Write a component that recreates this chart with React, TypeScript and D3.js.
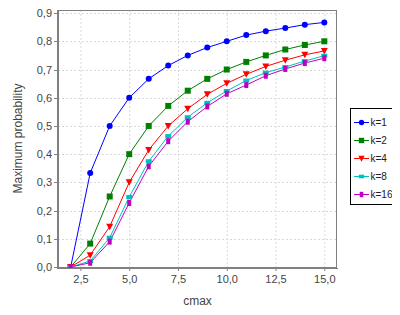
import * as d3 from 'd3';
import { useEffect, useRef } from 'react';

// cmax values on the x axis
const cmax = [2, 3, 4, 5, 6, 7, 8, 9, 10, 11, 12, 13, 14, 15];

// series values
const k1 = [0, 0.333, 0.5, 0.6, 0.667, 0.714, 0.75, 0.778, 0.8, 0.822, 0.836, 0.847, 0.859, 0.867];
const k2 = [0, 0.083, 0.25, 0.4, 0.5, 0.571, 0.625, 0.667, 0.7, 0.727, 0.75, 0.771, 0.787, 0.8];
const k4 = [0, 0.042, 0.143, 0.3, 0.415, 0.5, 0.561, 0.612, 0.651, 0.683, 0.711, 0.733, 0.752, 0.766];
const k8 = [0, 0.021, 0.104, 0.248, 0.375, 0.464, 0.531, 0.582, 0.624, 0.661, 0.689, 0.709, 0.73, 0.749];
const k16 = [0, 0.015, 0.09, 0.227, 0.357, 0.446, 0.515, 0.569, 0.614, 0.645, 0.678, 0.702, 0.723, 0.74];

const seriesNames = ['k=1', 'k=2', 'k=4', 'k=8', 'k=16'];
const xTicks = [2.5, 5, 7.5, 10, 12.5, 15];
const yTicks = [0, 0.1, 0.2, 0.3, 0.4, 0.5, 0.6, 0.7, 0.8, 0.9];

function App() {
    const elementRef = useRef<HTMLDivElement>(null);

    useEffect(() => {
        const element = d3.select(elementRef.current);
        element.selectAll('svg').remove();

        const width = 400, height = 315;
        const plot = { left: 58, right: 337, top: 10, bottom: 267 };
        const font = 'Liberation Sans, Arial, sans-serif';

        const svg = element.append('svg')
            .attr('width', width)
            .attr('height', height)
            .style('display', 'block')
            .style('font-family', font);

        svg.append('rect').attr('width', width).attr('height', height).attr('fill', '#fff');

        const x = d3.scaleLinear().domain([1.35, 15.65]).range([plot.left, plot.right]);
        const y = d3.scaleLinear().domain([0, 0.911]).range([plot.bottom, plot.top]);
        const fmt = (v: number) => d3.format('.1f')(v).replace('.', ',');

        // gridlines
        svg.append('g').selectAll('line').data(xTicks).join('line')
            .attr('x1', d => x(d) + 0.5).attr('x2', d => x(d) + 0.5)
            .attr('y1', plot.top).attr('y2', plot.bottom)
            .attr('stroke', '#d9d9d9').attr('stroke-dasharray', '2,2');
        svg.append('g').selectAll('line').data(yTicks.slice(1)).join('line')
            .attr('x1', plot.left).attr('x2', plot.right)
            .attr('y1', d => Math.round(y(d)) + 0.5).attr('y2', d => Math.round(y(d)) + 0.5)
            .attr('stroke', '#d9d9d9').attr('stroke-dasharray', '2,2');

        // outline
        svg.append('rect')
            .attr('x', plot.left + 0.5).attr('y', plot.top + 0.5)
            .attr('width', plot.right - plot.left - 1).attr('height', plot.bottom - plot.top)
            .attr('fill', 'none').attr('stroke', '#808080');

        // x axis
        const xAxis = svg.append('g');
        xAxis.append('line')
            .attr('x1', plot.left).attr('x2', plot.right + 1)
            .attr('y1', plot.bottom + 1.5).attr('y2', plot.bottom + 1.5)
            .attr('stroke', '#808080');
        xAxis.selectAll('line.tick').data(xTicks).join('line')
            .attr('class', 'tick')
            .attr('x1', d => x(d) + 0.5).attr('x2', d => x(d) + 0.5)
            .attr('y1', plot.bottom + 2).attr('y2', plot.bottom + 4)
            .attr('stroke', '#808080');
        xAxis.selectAll('text').data(xTicks).join('text')
            .attr('x', d => x(d) + 0.5).attr('y', plot.bottom + 16)
            .attr('text-anchor', 'middle').attr('font-size', 11).attr('fill', '#444')
            .text(d => fmt(d));
        svg.append('text')
            .attr('x', (plot.left + plot.right) / 2).attr('y', 305)
            .attr('text-anchor', 'middle').attr('font-size', 12).attr('fill', '#444')
            .text('cmax');

        // y axis
        const yAxis = svg.append('g');
        yAxis.append('line')
            .attr('x1', plot.left - 0.5).attr('x2', plot.left - 0.5)
            .attr('y1', plot.top).attr('y2', plot.bottom + 2)
            .attr('stroke', '#808080');
        yAxis.selectAll('line.tick').data(yTicks).join('line')
            .attr('class', 'tick')
            .attr('x1', plot.left - 4).attr('x2', plot.left)
            .attr('y1', d => Math.round(y(d)) + 0.5).attr('y2', d => Math.round(y(d)) + 0.5)
            .attr('stroke', '#808080');
        yAxis.selectAll('text').data(yTicks).join('text')
            .attr('x', plot.left - 6).attr('y', d => y(d) + 4)
            .attr('text-anchor', 'end').attr('font-size', 11).attr('fill', '#444')
            .text(d => fmt(d));
        svg.append('text')
            .attr('transform', `translate(22,${(plot.top + plot.bottom) / 2}) rotate(-90)`)
            .attr('text-anchor', 'middle').attr('font-size', 12).attr('fill', '#444')
            .text('Maximum probability');

        // series
        const colors = ['#0000ff', '#008000', '#ff0000', '#00c0c0', '#c000c0'];
        const allSeries = [k1, k2, k4, k8, k16];

        // marker shapes: circle, square, down-triangle, flat rect, tall rect
        function marker(g: any, i: number, cx: number, cy: number, s = 1) {
            const c = colors[i];
            if (i === 0) g.append('circle').attr('cx', cx).attr('cy', cy).attr('r', 3 * s).attr('fill', c);
            else if (i === 1) g.append('rect').attr('x', cx - 3 * s).attr('y', cy - 3 * s).attr('width', 6 * s).attr('height', 6 * s).attr('fill', c);
            else if (i === 2) g.append('path').attr('d', `M${cx - 3.5 * s},${cy - 3 * s}L${cx + 3.5 * s},${cy - 3 * s}L${cx},${cy + 3.5 * s}Z`).attr('fill', c);
            else if (i === 3) g.append('rect').attr('x', cx - 3 * s).attr('y', cy - 2 * s).attr('width', 6 * s).attr('height', 4 * s).attr('fill', c);
            else g.append('rect').attr('x', cx - 2 * s).attr('y', cy - 3 * s).attr('width', 4 * s).attr('height', 6 * s).attr('fill', c);
        }

        const line = d3.line<number>()
            .x((_, j) => x(cmax[j]))
            .y(d => y(d));

        svg.append('clipPath').attr('id', 'plotclip')
            .append('rect')
            .attr('x', plot.left + 1).attr('y', plot.top + 1)
            .attr('width', plot.right - plot.left - 2).attr('height', plot.bottom - plot.top);

        const seriesG = svg.append('g').attr('clip-path', 'url(#plotclip)');
        allSeries.forEach((vals, i) => {
            seriesG.append('path')
                .datum(vals)
                .attr('d', line)
                .attr('fill', 'none')
                .attr('stroke', colors[i])
                .attr('stroke-width', 1);
        });
        allSeries.forEach((vals, i) => {
            vals.forEach((v, j) => marker(seriesG, i, x(cmax[j]), y(v)));
        });

        // legend
        const lg = svg.append('g');
        lg.append('rect')
            .attr('x', 350.5).attr('y', 108.5).attr('width', 43).attr('height', 96)
            .attr('fill', '#fff').attr('stroke', '#000');
        seriesNames.forEach((name, i) => {
            const ly = 122 + i * 18;
            lg.append('line')
                .attr('x1', 354).attr('x2', 369).attr('y1', ly + 0.5).attr('y2', ly + 0.5)
                .attr('stroke', colors[i]);
            marker(lg, i, 361.5, ly + 0.5, 0.9);
            lg.append('text')
                .attr('x', 370.5).attr('y', ly + 4)
                .attr('font-size', 10).attr('fill', '#222')
                .text(name);
        });
    });

    return (
        <div style={{ width: 400, height: 315, margin: -8 }} ref={elementRef}></div>
    );
}

export default App;
